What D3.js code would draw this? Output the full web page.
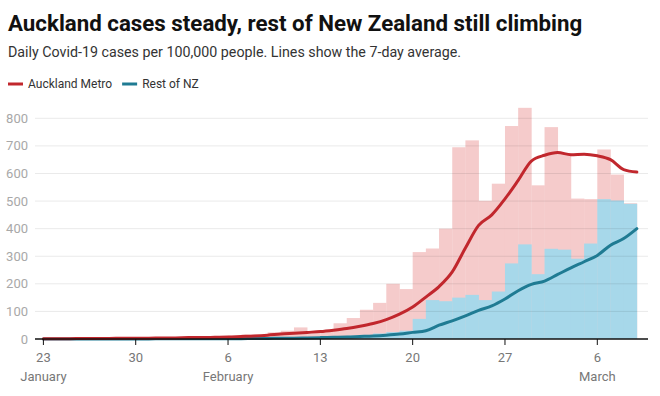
<!DOCTYPE html>
<html>
<head>
<meta charset="utf-8">
<script src="https://cdn.jsdelivr.net/npm/d3@7"></script>
<style>
  body { margin: 0; background: #fff; }
  svg { font-family: Roboto, "Noto Sans", sans-serif; display: block; }
</style>
</head>
<body>
<svg id="chart" width="660" height="396"></svg>
<script>
// daily cases per 100,000, bars run 23 Jan .. 8 Mar
const auckDaily = [2, 2, 3, 2, 3, 4, 3, 5, 4, 6, 5, 7, 8, 9, 12, 16, 16, 24, 30, 42,
  27, 30, 57, 76, 106, 131, 200, 181, 315, 328, 400, 695, 720, 501, 563, 772, 838,
  557, 768, 672, 509, 507, 687, 596, 492];
const restDaily = [0, 0, 0, 0, 0, 0, 0, 0, 0, 1, 1, 1, 1, 1, 2, 2, 3, 3, 4, 5,
  6, 7, 9, 12, 15, 20, 25, 30, 73, 141, 137, 150, 160, 141, 172, 274, 343,
  235, 327, 324, 291, 346, 507, 502, 490];

// 7-day averages, points run 23 Jan .. 9 Mar
const auckAvg = [1, 1, 1, 2, 2, 2, 3, 3, 3, 4, 4, 5, 5, 6, 7, 9, 11, 14, 18, 21,
  24, 27, 32, 38, 46, 56, 70, 90, 116, 152, 190, 243, 330, 412, 450, 508, 575,
  645, 666, 676, 668, 670, 664, 650, 614, 605];
const restAvg = [0, 0, 0, 0, 0, 0, 0, 0, 0, 1, 1, 1, 1, 1, 1, 1, 2, 2, 3, 3,
  4, 5, 6, 7, 9, 11, 14, 18, 24, 30, 50, 66, 84, 104, 120, 145, 175,
  198, 210, 234, 258, 280, 303, 340, 364, 400];

const yTicks = [0, 100, 200, 300, 400, 500, 600, 700, 800];
const xTickDays = ["2022-01-23", "2022-01-30", "2022-02-06", "2022-02-13",
  "2022-02-20", "2022-02-27", "2022-03-06"];
const monthLabels = { "2022-01-23": "January", "2022-02-06": "February", "2022-03-06": "March" };

const seriesNames = ["Auckland Metro", "Rest of NZ"];
const lineColors = ["#c1272d", "#1f7b93"];
const barColors = ["#f5cbcb", "#a7d8ea"];

const start = new Date(Date.UTC(2022, 0, 23));
const dayAt = (i) => d3.utcDay.offset(start, i);

const svg = d3.select("#chart");
const left = 35;
const right = 648;

const x = d3
  .scaleUtc()
  .domain([start, new Date(Date.UTC(2022, 2, 6))])
  .range([43.4, 597.3]);

const y = d3.scaleLinear().domain([0, 800]).range([339, 118.3]);

// title block
svg.append("text")
  .attr("x", 8).attr("y", 31)
  .attr("font-size", 22.3).attr("font-weight", 700).attr("fill", "#111")
  .text("Auckland cases steady, rest of New Zealand still climbing");

svg.append("text")
  .attr("x", 8).attr("y", 57)
  .attr("font-size", 14.25).attr("fill", "#333")
  .text("Daily Covid-19 cases per 100,000 people. Lines show the 7-day average.");

// legend
const legend = svg.append("g").attr("transform", "translate(8,84)");
let lx = 0;
seriesNames.forEach((name, i) => {
  legend.append("line")
    .attr("x1", lx).attr("x2", lx + 15)
    .attr("stroke", lineColors[i]).attr("stroke-width", 3);
  const t = legend.append("text")
    .attr("x", lx + 20).attr("dy", "0.35em")
    .attr("font-size", 12).attr("fill", "#333")
    .text(name);
  lx += 20 + t.node().getComputedTextLength() + 10;
});

// bars: Auckland behind, rest of NZ in front
const drawBars = (values, color) =>
  svg.append("g")
    .selectAll("rect")
    .data(values)
    .join("rect")
    .attr("x", (d, i) => x(dayAt(i)))
    .attr("width", (d, i) => x(dayAt(i + 1)) - x(dayAt(i)) + 0.3)
    .attr("y", (d) => y(d))
    .attr("height", (d) => y(0) - y(d))
    .attr("fill", color);

drawBars(auckDaily, barColors[0]);
drawBars(restDaily, barColors[1]);

// gridlines sit over the bars, very faint
const grid = svg.append("g");
grid.selectAll("line")
  .data(yTicks.filter((d) => d > 0))
  .join("line")
  .attr("x1", left).attr("x2", right)
  .attr("y1", (d) => y(d)).attr("y2", (d) => y(d))
  .attr("stroke", "#000").attr("stroke-opacity", 0.085);

grid.selectAll("text")
  .data(yTicks)
  .join("text")
  .attr("x", 28).attr("y", (d) => y(d)).attr("dy", "0.35em")
  .attr("text-anchor", "end").attr("font-size", 13).attr("fill", "#a8a8a8")
  .text((d) => d);

// 7-day average lines
const line = d3
  .line()
  .x((d, i) => x(dayAt(i)))
  .y((d) => y(d))
  .curve(d3.curveMonotoneX);

[restAvg, auckAvg].forEach((vals, j) => {
  svg.append("path")
    .datum(vals)
    .attr("d", line)
    .attr("fill", "none")
    .attr("stroke", lineColors[1 - j])
    .attr("stroke-width", 3)
    .attr("stroke-linejoin", "round")
    .attr("stroke-linecap", "round");
});

// x axis
const xAxis = svg.append("g");
xAxis.append("line")
  .attr("x1", left).attr("x2", right)
  .attr("y1", y(0)).attr("y2", y(0))
  .attr("stroke", "#111").attr("stroke-width", 1.5);

const ticks = xAxis.selectAll("g")
  .data(xTickDays)
  .join("g")
  .attr("transform", (d) => `translate(${x(new Date(d + "T00:00:00Z"))},${y(0)})`);

ticks.append("line").attr("y2", 6).attr("stroke", "#111");
ticks.append("text")
  .attr("y", 23).attr("text-anchor", "middle")
  .attr("font-size", 13).attr("fill", "#777")
  .text((d) => +d.slice(8));
ticks.append("text")
  .attr("y", 42).attr("text-anchor", "middle")
  .attr("font-size", 13).attr("fill", "#777")
  .text((d) => monthLabels[d] || "");
</script>
</body>
</html>
